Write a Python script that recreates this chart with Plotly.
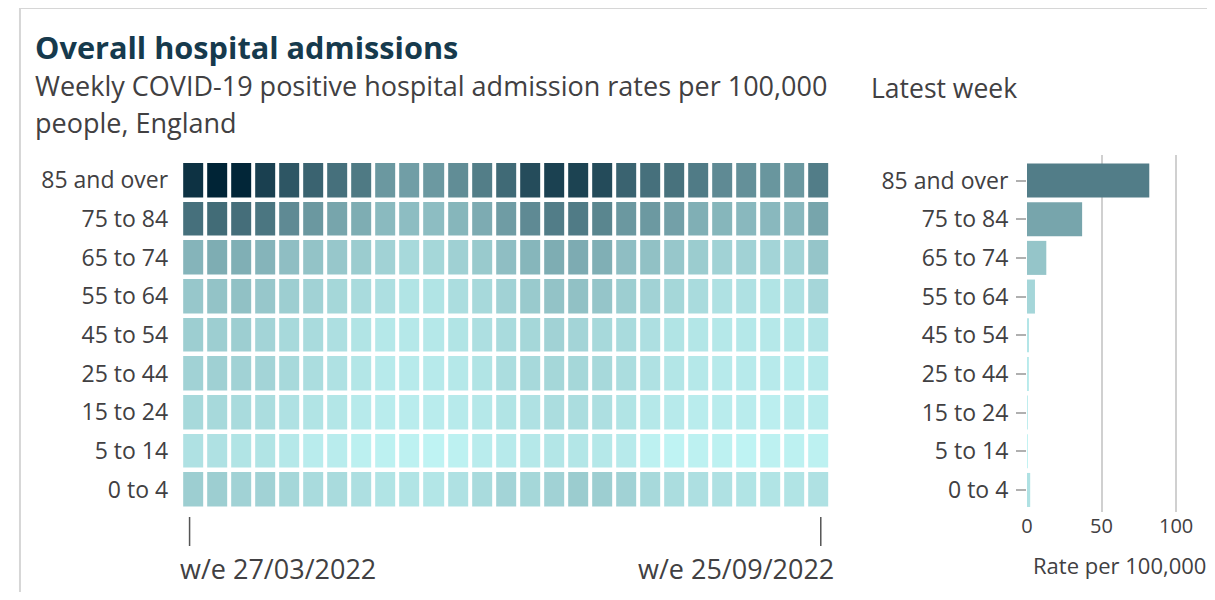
import numpy as np
import plotly.graph_objects as go
from plotly.colors import sample_colorscale

# ---------------- data ----------------
age_groups = ["85 and over", "75 to 84", "65 to 74", "55 to 64", "45 to 54",
              "25 to 44", "15 to 24", "5 to 14", "0 to 4"]

week_labels = ["w/e 27/03/2022", "w/e 03/04/2022", "w/e 10/04/2022", "w/e 17/04/2022",
               "w/e 24/04/2022", "w/e 01/05/2022", "w/e 08/05/2022", "w/e 15/05/2022",
               "w/e 22/05/2022", "w/e 29/05/2022", "w/e 05/06/2022", "w/e 12/06/2022",
               "w/e 19/06/2022", "w/e 26/06/2022", "w/e 03/07/2022", "w/e 10/07/2022",
               "w/e 17/07/2022", "w/e 24/07/2022", "w/e 31/07/2022", "w/e 07/08/2022",
               "w/e 14/08/2022", "w/e 21/08/2022", "w/e 28/08/2022", "w/e 04/09/2022",
               "w/e 11/09/2022", "w/e 18/09/2022", "w/e 25/09/2022"]

rate_85_over = [217, 250, 245, 187, 145, 122, 101, 87, 50, 43, 48, 62, 81, 111,
                163, 185, 182, 165, 122, 101, 98, 85, 65, 58, 52, 50, 82]
rate_75_84 = [101, 108, 104, 93, 65, 50, 37, 30, 20, 18, 18, 23, 31, 45,
              65, 82, 85, 71, 50, 48, 41, 28, 23, 21, 21, 21, 37]
rate_65_74 = [24, 30, 28, 24, 17, 14.4, 12, 9.8, 6.9, 4.6, 5.3, 7.8, 10.8, 17,
              23, 30, 31, 28, 17, 15.6, 12, 9.8, 6.9, 6.9, 6.1, 6.1, 13]
rate_55_64 = [12, 14.4, 15.6, 12, 8.8, 6.9, 5.3, 3.9, 2.7, 1.7, 1.7, 3.3, 4.6, 6.9,
              10.8, 14.4, 15.6, 13.1, 8.8, 6.9, 5.3, 3.9, 2.2, 2.2, 1.7, 2.2, 5.4]
rate_45_54 = [8.8, 8.8, 8.8, 6.1, 4.6, 3.9, 2.7, 1.7, 1.0, 1.0, 1.0, 1.7, 2.7, 3.9,
              5.3, 6.9, 6.1, 4.6, 3.9, 2.7, 1.7, 1.3, 1.0, 1.0, 1.0, 1.0, 1.4]
rate_25_44 = [6.9, 7.8, 6.9, 6.1, 4.6, 3.3, 2.2, 1.3, 0.7, 0.7, 0.7, 1.0, 1.7, 3.3,
              4.6, 5.3, 5.3, 4.6, 3.3, 2.2, 1.3, 1.0, 0.7, 0.7, 0.7, 0.45, 0.7]
rate_15_24 = [4.6, 4.6, 3.9, 3.3, 2.2, 1.7, 1.3, 0.7, 0.45, 0.45, 0.45, 0.7, 1.0, 1.7,
              2.2, 3.3, 3.3, 2.7, 1.7, 1.0, 0.7, 0.45, 0.45, 0.45, 0.25, 0.45, 0.45]
rate_5_14 = [2.2, 2.2, 1.7, 1.7, 1.0, 0.45, 0.45, 0.17, 0.11, 0.11, 0.03, 0.11, 0.45, 0.7,
             1.0, 1.3, 1.3, 1.0, 0.7, 0.11, 0.03, 0.11, 0.11, 0.03, 0.11, 0.11, 0.11]
rate_0_4 = [8.8, 8.8, 6.9, 6.9, 5.3, 3.9, 3.9, 2.7, 1.7, 1.7, 1.3, 2.2, 3.9, 6.1,
            5.3, 6.9, 9.8, 8.8, 6.9, 4.6, 3.3, 2.7, 2.2, 1.7, 1.7, 1.7, 2.2]

rates = [rate_85_over, rate_75_84, rate_65_74, rate_55_64, rate_45_54,
         rate_25_44, rate_15_24, rate_5_14, rate_0_4]
latest_week = [r[-1] for r in rates]

# ---------------- styling ----------------
OFF = 8  # page body margin in the browser
W, H = 1215 - 2 * OFF, 600 - 2 * OFF   # keep the page free of scrollbars
FONT = "Open Sans"
TXT = "#414042"
LIGHT, DARK = "#c1f5f5", "#002436"
scale = [[0, LIGHT], [1, DARK]]
zmax = float(np.sqrt(max(max(r) for r in rates)))


def px_x(p):
    return (p - OFF) / W


def px_y(p):
    return 1 - (p - OFF) / H


z = np.sqrt(np.array(rates, dtype=float))
bar_colors = sample_colorscale(scale, [np.sqrt(v) / zmax for v in latest_week])

fig = go.Figure()

fig.add_trace(go.Heatmap(
    z=z, x=week_labels, y=age_groups,
    customdata=np.array(rates),
    colorscale=scale, zmin=0, zmax=zmax, showscale=False,
    xgap=4, ygap=4.5,
    hovertemplate="%{y}<br>%{x}: %{customdata}<extra></extra>",
    xaxis="x", yaxis="y",
))

fig.add_trace(go.Bar(
    x=latest_week, y=age_groups, orientation="h",
    marker=dict(color=bar_colors, line=dict(width=0)),
    width=0.88,
    hovertemplate="%{y}: %{x}<extra></extra>",
    xaxis="x2", yaxis="y2",
))

cat_order = list(reversed(age_groups))

fig.update_layout(
    width=W, height=H,
    margin=dict(l=0, r=0, t=0, b=0),
    paper_bgcolor="white", plot_bgcolor="white",
    font=dict(family=FONT, color=TXT, size=23),
    showlegend=False,
    xaxis=dict(domain=[px_x(176), px_x(828.5)], showticklabels=False, ticks="",
               showgrid=False, zeroline=False, showline=False,
               range=[-0.5, len(week_labels) - 0.5], fixedrange=True),
    yaxis=dict(domain=[px_y(509), px_y(161)], categoryorder="array",
               categoryarray=cat_order, range=[-0.5, 8.5],
               showgrid=False, zeroline=False, showline=False, ticks="",
               ticklabelstandoff=12, tickfont=dict(size=23, color=TXT)),
    xaxis2=dict(domain=[px_x(1026), px_x(1206)], range=[0, 120],
                tickvals=[0, 50, 100], showgrid=True, gridcolor="#d0d0d0",
                gridwidth=1.5, zeroline=False, showline=False, ticks="",
                tickfont=dict(size=20, color=TXT), anchor="y2"),
    yaxis2=dict(domain=[px_y(512), px_y(155)], categoryorder="array",
                categoryarray=cat_order, range=[-0.57, 8.66], anchor="x2",
                showgrid=False, zeroline=False, showline=False,
                ticks="outside", ticklen=10, tickcolor="#b0b0b0", tickwidth=1.5,
                ticklabelstandoff=3, tickfont=dict(size=23, color=TXT)),
    bargap=0.12,
)

# frame
fig.add_shape(type="rect", xref="paper", yref="paper",
              x0=px_x(14), x1=px_x(1260), y0=px_y(8), y1=px_y(640),
              line=dict(color="#d6d6d6", width=2), layer="below")

# heatmap end ticks
for xv in [-0.15, len(week_labels) - 1 + 0.1]:
    fig.add_shape(type="line", xref="x", yref="paper",
                  x0=xv, x1=xv, y0=px_y(517), y1=px_y(546),
                  line=dict(color="#555555", width=1.5))

ann = [
    dict(text="<b>Overall hospital admissions</b>", x=px_x(27), y=px_y(47),
         font=dict(size=30.7, color="#163a4d")),
    dict(text="Weekly COVID-19 positive hospital admission rates per 100,000",
         x=px_x(27), y=px_y(86), font=dict(size=27, color=TXT)),
    dict(text="people, England", x=px_x(27), y=px_y(122), font=dict(size=27, color=TXT)),
    dict(text="Latest week", x=px_x(867), y=px_y(88), font=dict(size=26.5, color=TXT)),
    dict(text=week_labels[0], x=px_x(173), y=px_y(568), font=dict(size=27, color=TXT)),
    dict(text=week_labels[-1], x=px_x(834), y=px_y(568), xanchor="right",
         font=dict(size=27, color=TXT)),
    dict(text="Rate per 100,000", x=px_x(1119), y=px_y(565), xanchor="center",
         font=dict(size=22, color=TXT)),
]
for a in ann:
    a.setdefault("xanchor", "left")
    fig.add_annotation(xref="paper", yref="paper", yanchor="middle",
                       showarrow=False, **a)

fig.write_html("out.html")
